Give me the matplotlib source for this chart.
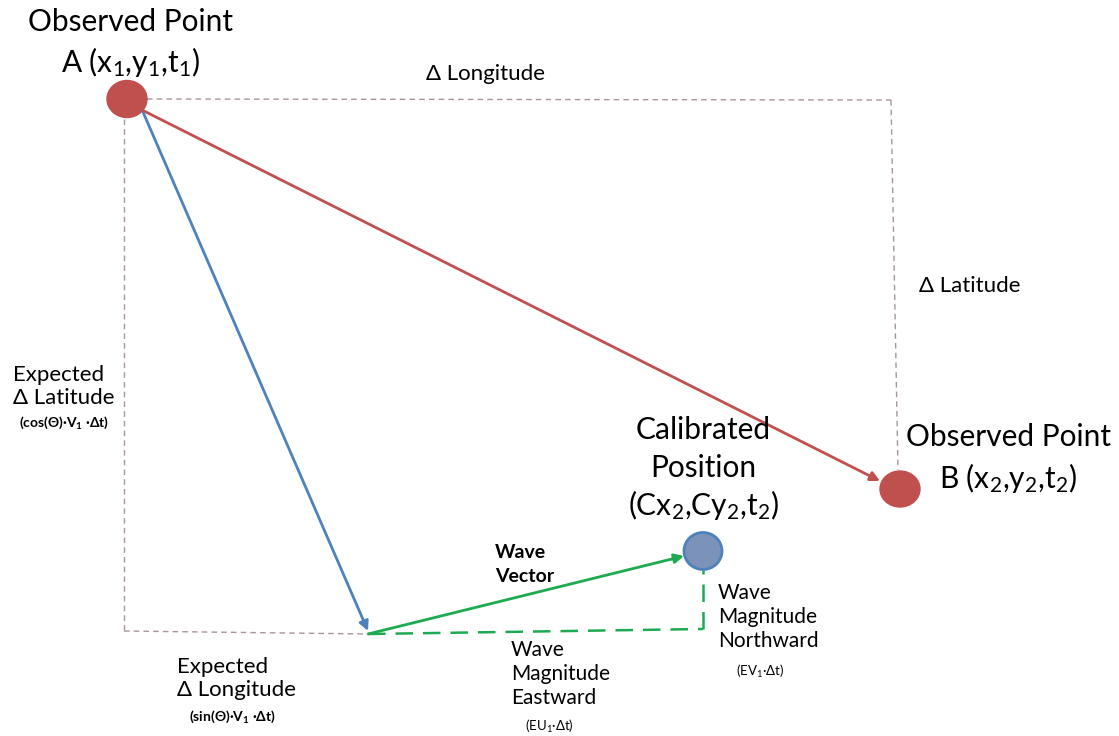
import matplotlib
matplotlib.use("Agg")
import matplotlib.pyplot as plt
from matplotlib.patches import Ellipse, FancyArrowPatch

plt.rcParams['font.family'] = ['Lato', 'DejaVu Sans']
plt.rcParams['mathtext.fontset'] = 'custom'
plt.rcParams['mathtext.rm'] = 'Lato'
plt.rcParams['mathtext.it'] = 'Lato:italic'
plt.rcParams['mathtext.bf'] = 'Lato:bold'
plt.rcParams['mathtext.default'] = 'regular'

# diagram geometry (pixel coordinates of the reference)
point_a = (127, 99)
point_b = (900, 489)
point_c = (703, 551)
expected_end = (368, 634)
rect_corner_tr = (891, 100)
rect_right_bottom = (898, 470)
rect_left_bottom = (124, 631)
wave_corner = (703, 629)

RED = '#c0504d'
BLUE = '#4f81bd'
GREEN = '#1eaa50'
GRAY_DASH = '#a8959c'

fig = plt.figure(figsize=(11.19, 7.36), dpi=100)
ax = fig.add_axes([0, 0, 1, 1])
ax.set_xlim(0, 1119)
ax.set_ylim(736, 0)
ax.axis('off')

# dashed rectangle lines
dash = dict(color=GRAY_DASH, lw=1.0, ls=(0, (4, 3)))
ax.plot([point_a[0] + 20, rect_corner_tr[0]], [point_a[1], rect_corner_tr[1]], **dash)
ax.plot([rect_corner_tr[0], rect_right_bottom[0]], [rect_corner_tr[1], rect_right_bottom[1]], **dash)
ax.plot([rect_left_bottom[0], rect_left_bottom[0]], [point_a[1] + 20, rect_left_bottom[1]], **dash)
ax.plot([rect_left_bottom[0], expected_end[0]], [rect_left_bottom[1], expected_end[1]], **dash)

# green dashed components
gdash = dict(color=GREEN, lw=1.8, ls=(0, (7, 4)))
ax.plot([expected_end[0], wave_corner[0]], [expected_end[1], wave_corner[1]], **gdash)
ax.plot([wave_corner[0], point_c[0]], [wave_corner[1], point_c[1] + 19], **gdash)

def arrow(p0, p1, color):
    a = FancyArrowPatch(p0, p1, arrowstyle='-|>', mutation_scale=14,
                        color=color, lw=2.0, shrinkA=0, shrinkB=0)
    ax.add_patch(a)

arrow((144, 111), (880, 481), RED)
arrow((143, 112), (368, 631), BLUE)
arrow(expected_end, (684, 556), GREEN)

# circles
ax.add_patch(Ellipse(point_a, 40, 37, facecolor=RED, edgecolor=RED, zorder=5))
ax.add_patch(Ellipse(point_b, 40, 36, facecolor=RED, edgecolor=RED, zorder=5))
ax.add_patch(Ellipse(point_c, 38, 37, facecolor='#7b93b8', edgecolor=BLUE, lw=2, zorder=5))

# texts
big = 21.5
mid = 16
ax.text(130, 22, 'Observed Point', fontsize=big, ha='center', va='center')
ax.text(130, 62, r'A (x$_1$,y$_1$,t$_1$)', fontsize=big, ha='center', va='center')
ax.text(486, 74, 'Δ Longitude', fontsize=mid, ha='center', va='center')
ax.text(970, 286, 'Δ Latitude', fontsize=mid, ha='center', va='center')

ax.text(13, 375, 'Expected', fontsize=mid, ha='left', va='center')
ax.text(13, 398, 'Δ Latitude', fontsize=mid, ha='left', va='center')
ax.text(64, 423, r'(cos(Θ)·V$_1$ ·Δt)', fontsize=10, fontweight='bold', ha='center', va='center')

ax.text(703, 430, 'Calibrated', fontsize=big, ha='center', va='center')
ax.text(703, 468, 'Position', fontsize=big, ha='center', va='center')
ax.text(703, 505, r'(Cx$_2$,Cy$_2$,t$_2$)', fontsize=big, ha='center', va='center')

ax.text(1008, 437, 'Observed Point', fontsize=big, ha='center', va='center')
ax.text(1008, 478, r'B (x$_2$,y$_2$,t$_2$)', fontsize=big, ha='center', va='center')

ax.text(495, 552, 'Wave', fontsize=14, fontweight='bold', ha='left', va='center')
ax.text(495, 576, 'Vector', fontsize=14, fontweight='bold', ha='left', va='center')

for i, s in enumerate(['Wave', 'Magnitude', 'Northward']):
    ax.text(718, 593 + 24 * i, s, fontsize=15, ha='left', va='center')
ax.text(760, 671, r'(EV$_1$·Δt)', fontsize=9.5, ha='center', va='center')

for i, s in enumerate(['Wave', 'Magnitude', 'Eastward']):
    ax.text(511, 650 + 24 * i, s, fontsize=15, ha='left', va='center')
ax.text(549, 726, r'(EU$_1$·Δt)', fontsize=9.5, ha='center', va='center')

ax.text(177, 667, 'Expected', fontsize=mid, ha='left', va='center')
ax.text(177, 690, 'Δ Longitude', fontsize=mid, ha='left', va='center')
ax.text(232, 717, r'(sin(Θ)·V$_1$ ·Δt)', fontsize=10, fontweight='bold', ha='center', va='center')

fig.savefig('out.png', dpi=100)
